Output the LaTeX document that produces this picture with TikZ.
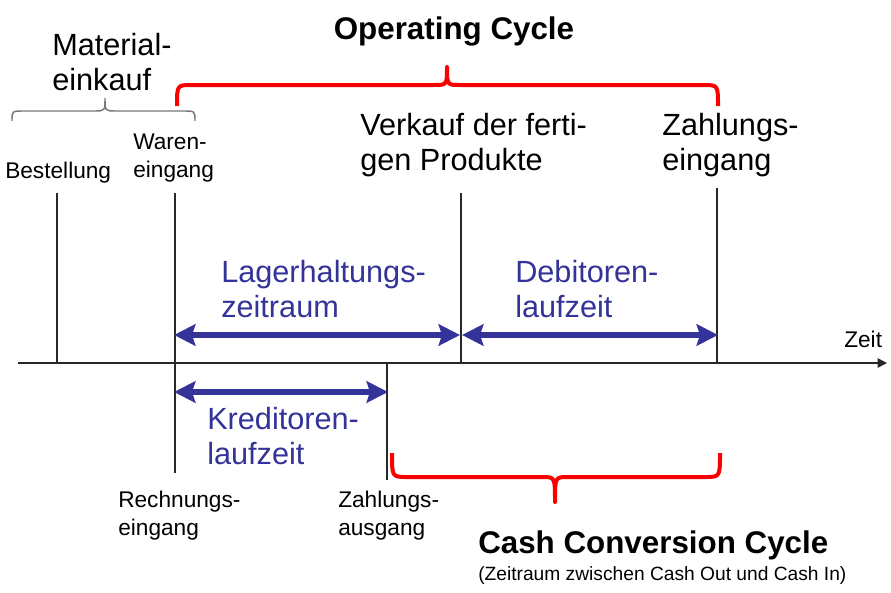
\documentclass[tikz,border=0pt]{standalone}
\usepackage{fontspec}
\setmainfont{Liberation Sans}
\usetikzlibrary{arrows.meta, positioning}
\definecolor{spanBlue}{RGB}{51,51,153}
\definecolor{cycleRed}{RGB}{250,0,0}
\definecolor{braceGray}{RGB}{120,120,120}
\definecolor{tickGray}{RGB}{40,40,40}

\begin{document}
\begin{tikzpicture}[
    x=0.75pt, y=-0.75pt,
    % Large event / period labels (placed at the baseline of the last line)
    biglbl/.style={
        font=\fontsize{23}{26.2}\selectfont,
        align=left, anchor=base west, inner sep=0pt
    },
    % Small event labels at the ticks
    smalllbl/.style={
        font=\fontsize{17}{21}\selectfont,
        align=left, anchor=base west, inner sep=0pt
    },
    spanlbl/.style={biglbl, text=spanBlue},
    % Period arrows
    span/.style={
        {Stealth[length=16pt, width=16pt, inset=2.5pt]}-{Stealth[length=16pt, width=16pt, inset=2.5pt]},
        line width=5pt, draw=spanBlue
    },
    tick/.style={draw=tickGray, line width=0.8pt},
    cyclebrace/.style={draw=cycleRed, line width=3pt, line join=round},
    matbrace/.style={draw=braceGray, line width=1.1pt}
]
\useasboundingbox (0,0) rectangle (891,592);
% ── TIME AXIS ─────────────────────────────────────────────────
\coordinate (axL) at (18,363);
\coordinate (axR) at (887,363);
\draw[-{Triangle[length=7pt, width=7pt]}, line width=1.1pt, draw=tickGray]
    (axL) -- (axR);
\node[smalllbl] (zeit) at (844,347) {Zeit};
% ── TICKS ─────────────────────────────────────────────────────
\coordinate (bestTop)  at (57,193);   \coordinate (bestAx)  at (57,363);
\coordinate (warenTop) at (175,193);  \coordinate (warenAx) at (175,363);
\coordinate (rechBot)  at (175,473);
\coordinate (verkTop)  at (461,193);  \coordinate (verkAx)  at (461,363);
\coordinate (zeinTop)  at (717,188);  \coordinate (zeinAx)  at (717,363);
\coordinate (zausAx)   at (387,363);  \coordinate (zausBot) at (387,480);
\draw[tick] (bestTop)  -- (bestAx);
\draw[tick] (warenTop) -- (rechBot);
\draw[tick] (verkTop)  -- (verkAx);
\draw[tick] (zeinTop)  -- (zeinAx);
\draw[tick] (zausAx)   -- (zausBot);
% ── EVENT LABELS ──────────────────────────────────────────────
\node[biglbl]   (material) at (52,90)   {Material-\\einkauf};
\node[smalllbl] (bestell)  at (5,178)   {Bestellung};
\node[smalllbl] (waren)    at (133,177) {Waren-\\eingang};
\node[biglbl]   (verkauf)  at (360,170) {Verkauf der ferti-\\gen Produkte};
\node[biglbl]   (zein)     at (662,170) {Zahlungs-\\eingang};
\node[smalllbl] (rechnung) at (118,535) {Rechnungs-\\eingang};
\node[smalllbl] (zaus)     at (338,535) {Zahlungs-\\ausgang};
% ── PERIODS ───────────────────────────────────────────────────
\coordinate (lagL) at (174,335); \coordinate (lagR) at (460,335);
\coordinate (debL) at (462,335); \coordinate (debR) at (718,335);
\coordinate (kreL) at (174,392); \coordinate (kreR) at (388,392);
\draw[span] (lagL) -- (lagR);
\draw[span] (debL) -- (debR);
\draw[span] (kreL) -- (kreR);
\node[spanlbl] (lager)    at (221,317) {Lagerhaltungs-\\zeitraum};
\node[spanlbl] (debitor)  at (515,317) {Debitoren-\\laufzeit};
\node[spanlbl] (kreditor) at (207,464) {Kreditoren-\\laufzeit};
% ── BRACES ────────────────────────────────────────────────────
% Material purchase (thin grey)
\draw[matbrace] (12,121) .. controls (12,111) .. (24,111) -- (94,111)
    .. controls (105,111) .. (105,98) .. controls (105,111) .. (116,111)
    -- (183,111) .. controls (195,111) .. (195,121);
% Operating cycle (red, opening down)
\draw[cyclebrace] (177,106) .. controls (177,85) .. (192,85) -- (434,85)
    .. controls (447,85) .. (447,67) .. controls (447,85) .. (460,85)
    -- (703,85) .. controls (718,85) .. (718,106);
% Cash conversion cycle (red, opening up)
\draw[cyclebrace] (392,453) .. controls (392,477) .. (407,477) -- (542,477)
    .. controls (555,477) .. (555,502) .. controls (555,477) .. (568,477)
    -- (705,477) .. controls (720,477) .. (720,453);
% ── CYCLE TITLES ──────────────────────────────────────────────
\node[font=\fontsize{23.5}{26}\selectfont\bfseries, anchor=base, inner sep=0pt]
    (opcycle) at (454,40) {Operating Cycle};
\node[font=\fontsize{23.5}{26}\selectfont\bfseries, anchor=base west, inner sep=0pt]
    (ccc) at (478,553) {Cash Conversion Cycle};
\node[font=\fontsize{14.4}{17}\selectfont, anchor=base west, inner sep=0pt]
    (cccnote) at (478,580) {(Zeitraum zwischen Cash Out und Cash In)};
\end{tikzpicture}
\end{document}
